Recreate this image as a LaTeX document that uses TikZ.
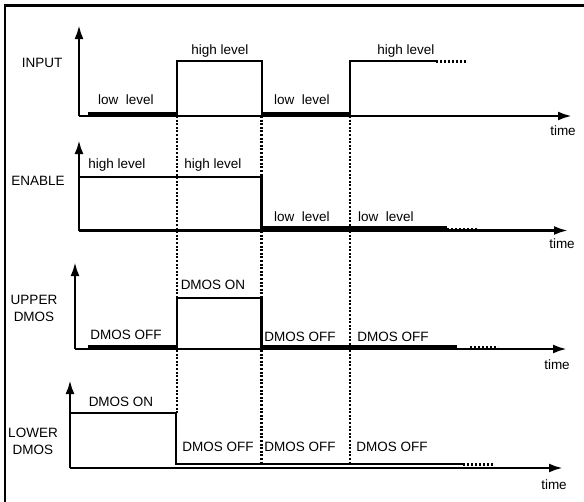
\documentclass[tikz,border=0pt]{standalone}
\usepackage{fontspec}
\setmainfont{Liberation Sans}
\usetikzlibrary{arrows.meta}

\begin{document}
\begin{tikzpicture}[
    x=1pt, y=-1pt,
    every node/.style={draw=none, inner sep=1pt, font=\fontsize{13.5}{17}\selectfont},
    axis/.style={line width=2.6pt, -{Latex[length=14pt,width=9pt]}},
    wave/.style={line width=2.8pt, line join=miter},
    lowwave/.style={line width=5.5pt},
    tail/.style={line width=3pt, dash pattern=on 1.8pt off 2.2pt},
    marker/.style={line width=2.8pt, dash pattern=on 2pt off 1.6pt}
]
\useasboundingbox (0,0) rectangle (584,501);
% frame
\draw[line width=2.6pt] (5,510) -- (5,5.5) -- (590,5.5);

% axes
\coordinate (o1) at (79,116);  \coordinate (y1) at (79,25);  \coordinate (t1) at (572,116);
\coordinate (o2) at (79,230.5);\coordinate (y2) at (79,140); \coordinate (t2) at (568,230.5);
\coordinate (o3) at (75,349);  \coordinate (y3) at (75,262); \coordinate (t3) at (567,349);
\coordinate (o4) at (70,468);  \coordinate (y4) at (70,380); \coordinate (t4) at (563,468);
\foreach \i in {1,...,4} {
    \draw[axis] (o\i) -- (y\i);
    \draw[axis] (o\i) -- (t\i);
}

% switching instants
\draw[marker] (177,116) -- (177,413);
\draw[marker] (261.5,116) -- (261.5,464);
\draw[marker] (350,116) -- (350,463);

% INPUT
\draw[lowwave] (88,114.5) -- (177,114.5) (262,114.5) -- (350,114.5);
\draw[wave] (177,116) -- (177,61) -- (262,61) -- (262,116)
            (350,116) -- (350,61) -- (436,61);
\draw[tail] (436,61) -- (467,61);

% ENABLE
\draw[wave] (79,177) -- (261.5,177) -- (261.5,229);
\draw[lowwave] (261.5,229) -- (447,229);
\draw[tail] (447,229) -- (477,229);

% UPPER DMOS
\draw[lowwave] (88,347.5) -- (177,347.5) (261.5,347.5) -- (457,347.5);
\draw[wave] (177,349) -- (177,298) -- (261.5,298) -- (261.5,349);
\draw[tail] (470,347) -- (498,347);

% LOWER DMOS
\draw[wave] (70,413) -- (176,413) -- (176,464) -- (463,464);
\draw[tail] (463,464) -- (493,464);

% labels
\node (in)  at (42,63)  {INPUT};
\node (en)  at (38,181) {ENABLE};
\node[align=center] (up) at (34,308) {UPPER\\DMOS};
\node[align=center] (lo) at (33,441) {LOWER\\DMOS};

\node (inlo1) at (126,100) {low\ \ level};
\node (inhi1) at (220,51)  {high level};
\node (inlo2) at (302,100) {low\ \ level};
\node (inhi2) at (406,51)  {high level};

\node (enhi1) at (117,165) {high level};
\node (enhi2) at (213,165) {high level};
\node (enlo1) at (302,217) {low\ \ level};
\node (enlo2) at (386,217) {low\ \ level};

\node (upon)   at (213,285) {DMOS ON};
\node (upoff1) at (126,335) {DMOS OFF};
\node (upoff2) at (300,337) {DMOS OFF};
\node (upoff3) at (393,337) {DMOS OFF};

\node (loon)   at (121,402) {DMOS ON};
\node (looff1) at (218,447) {DMOS OFF};
\node (looff2) at (300,447) {DMOS OFF};
\node (looff3) at (392,447) {DMOS OFF};

\node (tm1) at (563,131) {time};
\node (tm2) at (562,244) {time};
\node (tm3) at (557,365) {time};
\node (tm4) at (554,485) {time};
\end{tikzpicture}
\end{document}
